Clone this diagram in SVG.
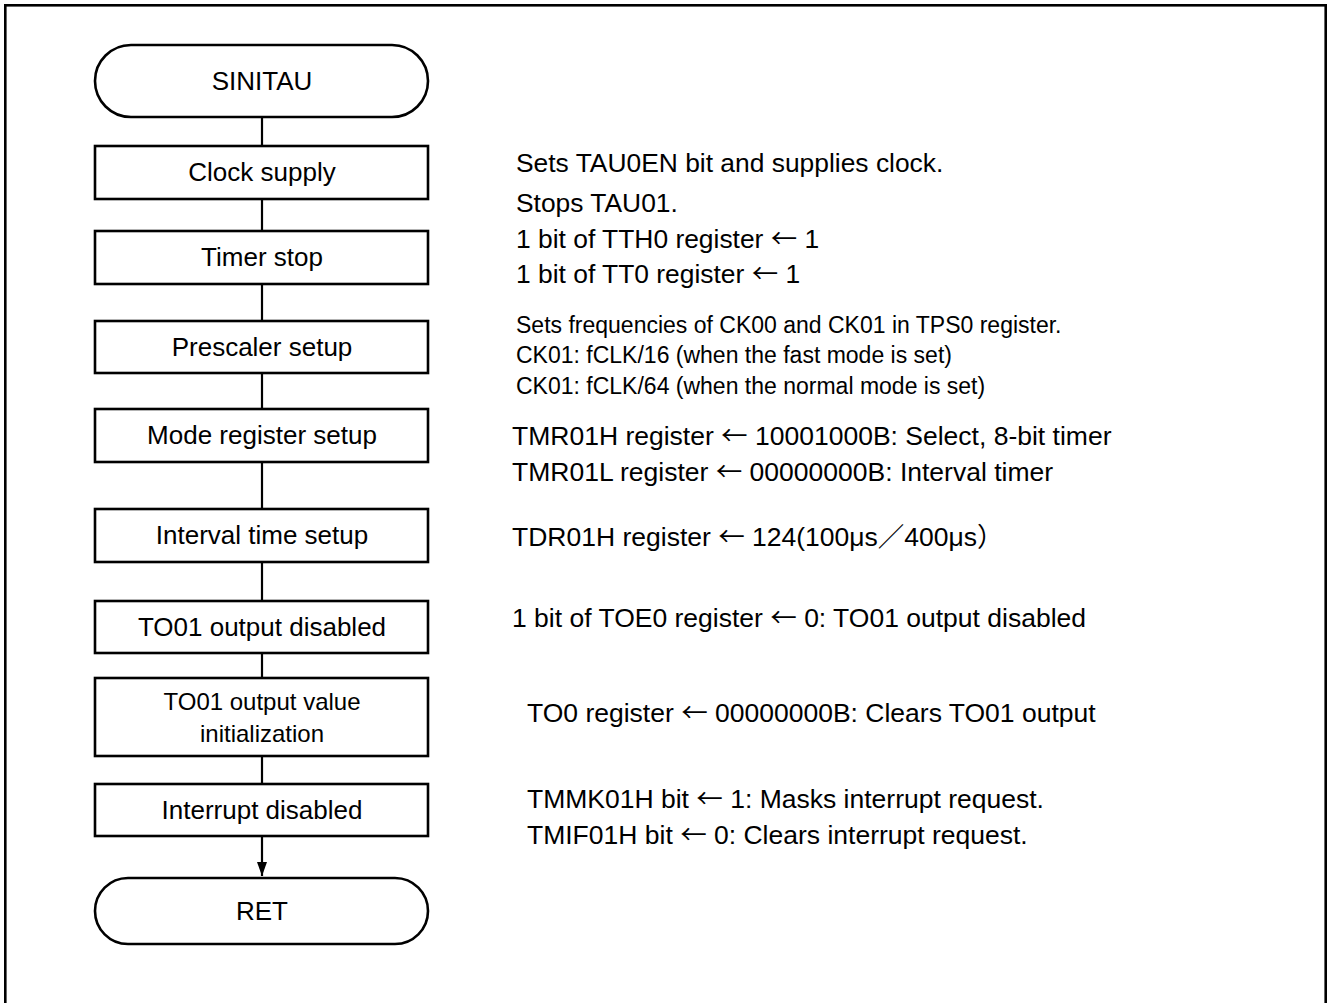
<svg xmlns="http://www.w3.org/2000/svg" width="1328" height="1003" viewBox="0 0 1328 1003">
<style>
.frame{fill:none;stroke:#000;stroke-width:2.6}
.box{fill:#fff;stroke:#000;stroke-width:2.6}
.ln{stroke:#000;stroke-width:2.2;fill:none}
text{font-family:"Liberation Sans","Noto Sans CJK JP",Arial,sans-serif;fill:#000}
.bt{font-size:26px;text-anchor:middle}
.bs{font-size:24px;text-anchor:middle}
.r1{font-size:26.4px}
.r2{font-size:23px}
.r3{font-size:26.5px}
.ar{font-family:"Noto Sans CJK JP","Liberation Sans",sans-serif}
</style>
<defs>
<marker id="ah" markerWidth="14" markerHeight="10" refX="14" refY="5" orient="auto" markerUnits="userSpaceOnUse">
<path d="M0,0 L14,5 L0,10 Z" fill="#000"/>
</marker>
</defs>
<rect width="1328" height="1003" fill="#fff"/>
<rect class="frame" x="5.3" y="5.3" width="1320.4" height="1010"/>
<g id="connectors">
<line class="ln" x1="262" y1="117" x2="262" y2="146"/>
<line class="ln" x1="262" y1="199" x2="262" y2="231"/>
<line class="ln" x1="262" y1="284" x2="262" y2="321"/>
<line class="ln" x1="262" y1="373" x2="262" y2="409"/>
<line class="ln" x1="262" y1="462" x2="262" y2="509"/>
<line class="ln" x1="262" y1="562" x2="262" y2="601"/>
<line class="ln" x1="262" y1="653" x2="262" y2="678"/>
<line class="ln" x1="262" y1="756" x2="262" y2="784"/>
<line class="ln" x1="262" y1="836" x2="262" y2="876" marker-end="url(#ah)"/>
</g>
<g id="n-start"><rect class="box" x="95" y="45" width="333" height="72" rx="36" ry="36"/><text class="bt" x="262" y="90">SINITAU</text></g>
<g id="n-clock"><rect class="box" x="95" y="146" width="333" height="53"/><text class="bt" x="262" y="181">Clock supply</text></g>
<g id="n-stop"><rect class="box" x="95" y="231" width="333" height="53"/><text class="bt" x="262" y="266">Timer stop</text></g>
<g id="n-presc"><rect class="box" x="95" y="321" width="333" height="52"/><text class="bt" x="262" y="356">Prescaler setup</text></g>
<g id="n-mode"><rect class="box" x="95" y="409" width="333" height="53"/><text class="bt" x="262" y="444">Mode register setup</text></g>
<g id="n-interval"><rect class="box" x="95" y="509" width="333" height="53"/><text class="bt" x="262" y="544">Interval time setup</text></g>
<g id="n-todis"><rect class="box" x="95" y="601" width="333" height="52"/><text class="bt" x="262" y="636">TO01 output disabled</text></g>
<g id="n-toinit"><rect class="box" x="95" y="678" width="333" height="78"/><text class="bs" x="262" y="710">TO01 output value</text><text class="bs" x="262" y="742">initialization</text></g>
<g id="n-intdis"><rect class="box" x="95" y="784" width="333" height="52"/><text class="bt" x="262" y="819">Interrupt disabled</text></g>
<g id="n-ret"><rect class="box" x="95" y="878" width="333" height="66" rx="33" ry="33"/><text class="bt" x="262" y="920">RET</text></g>
<g id="notes">
<text class="r1" x="516" y="172">Sets TAU0EN bit and supplies clock.</text>
<text class="r1" x="516" y="212">Stops TAU01.</text>
<text class="r1" x="516" y="248">1 bit of TTH0 register <tspan class="ar">←</tspan> 1</text>
<text class="r1" x="516" y="283">1 bit of TT0 register <tspan class="ar">←</tspan> 1</text>
<text class="r2" x="516" y="333">Sets frequencies of CK00 and CK01 in TPS0 register.</text>
<text class="r2" x="516" y="363">CK01: fCLK/16 (when the fast mode is set)</text>
<text class="r2" x="516" y="394">CK01: fCLK/64 (when the normal mode is set)</text>
<text class="r3" x="512" y="445">TMR01H register <tspan class="ar">←</tspan> 10001000B: Select, 8-bit timer</text>
<text class="r3" x="512" y="481">TMR01L register <tspan class="ar">←</tspan> 00000000B: Interval timer</text>
<text class="r3" x="512" y="546">TDR01H register <tspan class="ar">←</tspan> 124(100μs／400μs）</text>
<text class="r3" x="512" y="627">1 bit of TOE0 register <tspan class="ar">←</tspan> 0: TO01 output disabled</text>
<text class="r3" x="527" y="722">TO0 register <tspan class="ar">←</tspan> 00000000B: Clears TO01 output</text>
<text class="r3" x="527" y="808">TMMK01H bit <tspan class="ar">←</tspan> 1: Masks interrupt request.</text>
<text class="r3" x="527" y="844">TMIF01H bit <tspan class="ar">←</tspan> 0: Clears interrupt request.</text>
</g>
</svg>
